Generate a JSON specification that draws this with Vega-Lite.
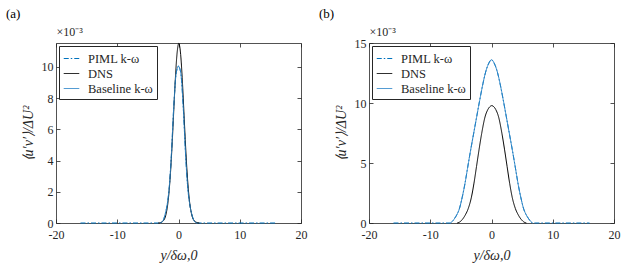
{
  "$schema": "https://vega.github.io/schema/vega-lite/v6.json",
  "background": "white",
  "padding": {"left": 6, "top": 8, "right": 5, "bottom": 5},
  "spacing": 12,
  "config": {
    "font": "Liberation Serif",
    "view": {"stroke": null},
    "axis": {
      "domainColor": "#262626", "domainWidth": 0.8,
      "tickColor": "#262626", "tickWidth": 0.8, "tickSize": -4,
      "labelFont": "Liberation Serif", "labelFontSize": 12, "labelColor": "#262626", "labelPadding": 7,
      "grid": false, "labelFlush": false,
      "titleFont": "Liberation Serif", "titleFontSize": 14, "titleFontWeight": "normal", "titleColor": "#262626"
    },
    "legend": {
      "orient": "top-left", "offset": 3, "strokeColor": "#262626", "fillColor": "white",
      "padding": 4, "symbolType": "stroke", "symbolSize": 240, "symbolStrokeWidth": 1,
      "labelFont": "Liberation Serif", "labelFontSize": 12.5, "labelColor": "#262626",
      "rowPadding": 0, "labelOffset": 8, "title": null
    },
    "title": {"font": "Liberation Serif", "fontSize": 13, "fontWeight": "normal", "color": "#000000", "anchor": "start", "frame": "group"}
  },
  "resolve": {"legend": {"color": "independent", "strokeDash": "independent"}},
  "data": {"values": [
    {"p":"a","s":"PIML k-ω","x":-16,"v":0},
    {"p":"a","s":"PIML k-ω","x":-3.0,"v":0},
    {"p":"a","s":"PIML k-ω","x":-2.6,"v":0.1},
    {"p":"a","s":"PIML k-ω","x":-2.15,"v":0.6},
    {"p":"a","s":"PIML k-ω","x":-1.8,"v":1.3},
    {"p":"a","s":"PIML k-ω","x":-1.55,"v":2.1},
    {"p":"a","s":"PIML k-ω","x":-1.17,"v":4.3},
    {"p":"a","s":"PIML k-ω","x":-0.78,"v":7.4},
    {"p":"a","s":"PIML k-ω","x":-0.41,"v":9.5},
    {"p":"a","s":"PIML k-ω","x":-0.2,"v":9.9},
    {"p":"a","s":"PIML k-ω","x":0,"v":10.05},
    {"p":"a","s":"PIML k-ω","x":0.2,"v":9.9},
    {"p":"a","s":"PIML k-ω","x":0.41,"v":9.5},
    {"p":"a","s":"PIML k-ω","x":0.78,"v":7.4},
    {"p":"a","s":"PIML k-ω","x":1.17,"v":4.3},
    {"p":"a","s":"PIML k-ω","x":1.55,"v":2.1},
    {"p":"a","s":"PIML k-ω","x":1.8,"v":1.3},
    {"p":"a","s":"PIML k-ω","x":2.15,"v":0.6},
    {"p":"a","s":"PIML k-ω","x":2.6,"v":0.1},
    {"p":"a","s":"PIML k-ω","x":3.0,"v":0},
    {"p":"a","s":"PIML k-ω","x":16,"v":0},

    {"p":"a","s":"DNS","x":-3.3,"v":0},
    {"p":"a","s":"DNS","x":-3.0,"v":0.02},
    {"p":"a","s":"DNS","x":-2.5,"v":0.13},
    {"p":"a","s":"DNS","x":-2.0,"v":0.63},
    {"p":"a","s":"DNS","x":-1.75,"v":1.22},
    {"p":"a","s":"DNS","x":-1.5,"v":2.19},
    {"p":"a","s":"DNS","x":-1.25,"v":3.57},
    {"p":"a","s":"DNS","x":-1.0,"v":5.36},
    {"p":"a","s":"DNS","x":-0.75,"v":7.38},
    {"p":"a","s":"DNS","x":-0.5,"v":9.33},
    {"p":"a","s":"DNS","x":-0.25,"v":10.8},
    {"p":"a","s":"DNS","x":0.05,"v":11.5},
    {"p":"a","s":"DNS","x":0.35,"v":10.8},
    {"p":"a","s":"DNS","x":0.6,"v":9.33},
    {"p":"a","s":"DNS","x":0.85,"v":7.38},
    {"p":"a","s":"DNS","x":1.1,"v":5.36},
    {"p":"a","s":"DNS","x":1.35,"v":3.57},
    {"p":"a","s":"DNS","x":1.6,"v":2.19},
    {"p":"a","s":"DNS","x":1.85,"v":1.22},
    {"p":"a","s":"DNS","x":2.1,"v":0.63},
    {"p":"a","s":"DNS","x":2.6,"v":0.13},
    {"p":"a","s":"DNS","x":3.1,"v":0.02},
    {"p":"a","s":"DNS","x":3.4,"v":0},

    {"p":"a","s":"Baseline k-ω","x":-3.0,"v":0},
    {"p":"a","s":"Baseline k-ω","x":-2.6,"v":0.1},
    {"p":"a","s":"Baseline k-ω","x":-2.15,"v":0.6},
    {"p":"a","s":"Baseline k-ω","x":-1.8,"v":1.3},
    {"p":"a","s":"Baseline k-ω","x":-1.55,"v":2.1},
    {"p":"a","s":"Baseline k-ω","x":-1.17,"v":4.3},
    {"p":"a","s":"Baseline k-ω","x":-0.78,"v":7.4},
    {"p":"a","s":"Baseline k-ω","x":-0.41,"v":9.5},
    {"p":"a","s":"Baseline k-ω","x":-0.2,"v":9.9},
    {"p":"a","s":"Baseline k-ω","x":0,"v":10.05},
    {"p":"a","s":"Baseline k-ω","x":0.2,"v":9.9},
    {"p":"a","s":"Baseline k-ω","x":0.41,"v":9.5},
    {"p":"a","s":"Baseline k-ω","x":0.78,"v":7.4},
    {"p":"a","s":"Baseline k-ω","x":1.17,"v":4.3},
    {"p":"a","s":"Baseline k-ω","x":1.55,"v":2.1},
    {"p":"a","s":"Baseline k-ω","x":1.8,"v":1.3},
    {"p":"a","s":"Baseline k-ω","x":2.15,"v":0.6},
    {"p":"a","s":"Baseline k-ω","x":2.6,"v":0.1},
    {"p":"a","s":"Baseline k-ω","x":3.0,"v":0},

    {"p":"b","s":"PIML k-ω","x":-16,"v":0},
    {"p":"b","s":"PIML k-ω","x":-6.7,"v":0},
    {"p":"b","s":"PIML k-ω","x":-6.4,"v":0.13},
    {"p":"b","s":"PIML k-ω","x":-6.0,"v":0.4},
    {"p":"b","s":"PIML k-ω","x":-5.6,"v":0.75},
    {"p":"b","s":"PIML k-ω","x":-5.3,"v":1.1},
    {"p":"b","s":"PIML k-ω","x":-4.8,"v":2.1},
    {"p":"b","s":"PIML k-ω","x":-4.32,"v":3.32},
    {"p":"b","s":"PIML k-ω","x":-3.9,"v":4.6},
    {"p":"b","s":"PIML k-ω","x":-3.4,"v":6.09},
    {"p":"b","s":"PIML k-ω","x":-2.9,"v":7.5},
    {"p":"b","s":"PIML k-ω","x":-2.42,"v":8.85},
    {"p":"b","s":"PIML k-ω","x":-1.9,"v":10.3},
    {"p":"b","s":"PIML k-ω","x":-1.39,"v":11.63},
    {"p":"b","s":"PIML k-ω","x":-1.0,"v":12.5},
    {"p":"b","s":"PIML k-ω","x":-0.5,"v":13.25},
    {"p":"b","s":"PIML k-ω","x":0,"v":13.6},
    {"p":"b","s":"PIML k-ω","x":0.5,"v":13.25},
    {"p":"b","s":"PIML k-ω","x":1.0,"v":12.5},
    {"p":"b","s":"PIML k-ω","x":1.39,"v":11.63},
    {"p":"b","s":"PIML k-ω","x":1.9,"v":10.3},
    {"p":"b","s":"PIML k-ω","x":2.42,"v":8.85},
    {"p":"b","s":"PIML k-ω","x":2.9,"v":7.5},
    {"p":"b","s":"PIML k-ω","x":3.4,"v":6.09},
    {"p":"b","s":"PIML k-ω","x":3.9,"v":4.6},
    {"p":"b","s":"PIML k-ω","x":4.32,"v":3.32},
    {"p":"b","s":"PIML k-ω","x":4.8,"v":2.1},
    {"p":"b","s":"PIML k-ω","x":5.3,"v":1.1},
    {"p":"b","s":"PIML k-ω","x":5.6,"v":0.75},
    {"p":"b","s":"PIML k-ω","x":6.0,"v":0.4},
    {"p":"b","s":"PIML k-ω","x":6.4,"v":0.13},
    {"p":"b","s":"PIML k-ω","x":6.7,"v":0},
    {"p":"b","s":"PIML k-ω","x":16,"v":0},

    {"p":"b","s":"DNS","x":-5.6,"v":0},
    {"p":"b","s":"DNS","x":-5.2,"v":0.08},
    {"p":"b","s":"DNS","x":-4.75,"v":0.3},
    {"p":"b","s":"DNS","x":-4.3,"v":0.65},
    {"p":"b","s":"DNS","x":-3.8,"v":1.2},
    {"p":"b","s":"DNS","x":-3.3,"v":2.1},
    {"p":"b","s":"DNS","x":-2.86,"v":3.32},
    {"p":"b","s":"DNS","x":-2.45,"v":4.7},
    {"p":"b","s":"DNS","x":-2.04,"v":6.09},
    {"p":"b","s":"DNS","x":-1.6,"v":7.47},
    {"p":"b","s":"DNS","x":-1.05,"v":8.85},
    {"p":"b","s":"DNS","x":-0.6,"v":9.45},
    {"p":"b","s":"DNS","x":-0.25,"v":9.7},
    {"p":"b","s":"DNS","x":0.05,"v":9.78},
    {"p":"b","s":"DNS","x":0.35,"v":9.7},
    {"p":"b","s":"DNS","x":0.7,"v":9.45},
    {"p":"b","s":"DNS","x":1.15,"v":8.85},
    {"p":"b","s":"DNS","x":1.7,"v":7.47},
    {"p":"b","s":"DNS","x":2.14,"v":6.09},
    {"p":"b","s":"DNS","x":2.55,"v":4.7},
    {"p":"b","s":"DNS","x":2.96,"v":3.32},
    {"p":"b","s":"DNS","x":3.4,"v":2.1},
    {"p":"b","s":"DNS","x":3.9,"v":1.2},
    {"p":"b","s":"DNS","x":4.4,"v":0.65},
    {"p":"b","s":"DNS","x":4.85,"v":0.3},
    {"p":"b","s":"DNS","x":5.3,"v":0.08},
    {"p":"b","s":"DNS","x":5.7,"v":0},

    {"p":"b","s":"Baseline k-ω","x":-6.7,"v":0},
    {"p":"b","s":"Baseline k-ω","x":-6.4,"v":0.13},
    {"p":"b","s":"Baseline k-ω","x":-6.0,"v":0.4},
    {"p":"b","s":"Baseline k-ω","x":-5.6,"v":0.75},
    {"p":"b","s":"Baseline k-ω","x":-5.3,"v":1.1},
    {"p":"b","s":"Baseline k-ω","x":-4.8,"v":2.1},
    {"p":"b","s":"Baseline k-ω","x":-4.32,"v":3.32},
    {"p":"b","s":"Baseline k-ω","x":-3.9,"v":4.6},
    {"p":"b","s":"Baseline k-ω","x":-3.4,"v":6.09},
    {"p":"b","s":"Baseline k-ω","x":-2.9,"v":7.5},
    {"p":"b","s":"Baseline k-ω","x":-2.42,"v":8.85},
    {"p":"b","s":"Baseline k-ω","x":-1.9,"v":10.3},
    {"p":"b","s":"Baseline k-ω","x":-1.39,"v":11.63},
    {"p":"b","s":"Baseline k-ω","x":-1.0,"v":12.5},
    {"p":"b","s":"Baseline k-ω","x":-0.5,"v":13.25},
    {"p":"b","s":"Baseline k-ω","x":0,"v":13.6},
    {"p":"b","s":"Baseline k-ω","x":0.5,"v":13.25},
    {"p":"b","s":"Baseline k-ω","x":1.0,"v":12.5},
    {"p":"b","s":"Baseline k-ω","x":1.39,"v":11.63},
    {"p":"b","s":"Baseline k-ω","x":1.9,"v":10.3},
    {"p":"b","s":"Baseline k-ω","x":2.42,"v":8.85},
    {"p":"b","s":"Baseline k-ω","x":2.9,"v":7.5},
    {"p":"b","s":"Baseline k-ω","x":3.4,"v":6.09},
    {"p":"b","s":"Baseline k-ω","x":3.9,"v":4.6},
    {"p":"b","s":"Baseline k-ω","x":4.32,"v":3.32},
    {"p":"b","s":"Baseline k-ω","x":4.8,"v":2.1},
    {"p":"b","s":"Baseline k-ω","x":5.3,"v":1.1},
    {"p":"b","s":"Baseline k-ω","x":5.6,"v":0.75},
    {"p":"b","s":"Baseline k-ω","x":6.0,"v":0.4},
    {"p":"b","s":"Baseline k-ω","x":6.4,"v":0.13},
    {"p":"b","s":"Baseline k-ω","x":6.7,"v":0}
  ]},
  "hconcat": [
    {
      "width": 245, "height": 180,
      "title": {"text": "(a)", "dx": -50, "offset": 4},
      "transform": [{"filter": "datum.p === 'a'"}],
      "encoding": {
        "color": {"field": "s", "type": "nominal",
          "scale": {"domain": ["PIML k-ω", "DNS", "Baseline k-ω"], "range": ["#0072BD", "#000000", "#2f86c8"]}},
        "strokeDash": {"field": "s", "type": "nominal",
          "scale": {"domain": ["PIML k-ω", "DNS", "Baseline k-ω"], "range": [[5, 2, 1.5, 2], [1, 0], [1, 0]]}}
      },
      "resolve": {"axis": {"x": "independent", "y": "independent"}},
      "layer": [
        {
          "transform": [{"filter": "datum.s === 'PIML k-ω'"}],
          "mark": {"type": "line", "strokeWidth": 1, "interpolate": "monotone"},
          "encoding": {
            "x": {"field": "x", "type": "quantitative", "scale": {"domain": [-20, 20], "nice": false},
              "axis": {"orient": "bottom", "values": [-20, -10, 0, 10, 20], "labelExpr": "datum.value + ''", "labelFont": "Liberation Serif", "labelPadding": 10, "title": "y/δω,0", "titleFont": "Liberation Serif", "titleFontStyle": "italic", "titlePadding": 8}},
            "y": {"field": "v", "type": "quantitative", "scale": {"domain": [0, 11.53], "nice": false, "zero": false},
              "axis": {"orient": "left", "values": [0, 2, 4, 6, 8, 10], "labelExpr": "datum.value + ''", "labelFont": "Liberation Serif", "title": "⟨u′v′⟩/ΔU²", "titleFont": "Liberation Serif", "titleFontStyle": "italic", "titlePadding": 6}}
          }
        },
        {
          "transform": [{"filter": "datum.s === 'DNS'"}],
          "mark": {"type": "line", "strokeWidth": 1, "interpolate": "monotone"},
          "encoding": {
            "x": {"field": "x", "type": "quantitative", "scale": {"domain": [-20, 20], "nice": false},
              "axis": {"orient": "top", "values": [-20, -10, 0, 10, 20], "labels": false, "title": "×10⁻³", "titleFont": "Liberation Serif", "titleFontSize": 12, "titleAlign": "left", "titleBaseline": "bottom", "titleX": 0, "titleY": -5}},
            "y": {"field": "v", "type": "quantitative", "scale": {"domain": [0, 11.53], "nice": false, "zero": false},
              "axis": {"orient": "right", "values": [0, 2, 4, 6, 8, 10], "labels": false, "title": null}}
          }
        },
        {
          "transform": [{"filter": "datum.s === 'Baseline k-ω'"}],
          "mark": {"type": "line", "strokeWidth": 1, "interpolate": "monotone"},
          "encoding": {
            "x": {"field": "x", "type": "quantitative", "scale": {"domain": [-20, 20], "nice": false}, "axis": null},
            "y": {"field": "v", "type": "quantitative", "scale": {"domain": [0, 11.53], "nice": false, "zero": false}, "axis": null}
          }
        }
      ]
    },
    {
      "width": 245, "height": 180,
      "title": {"text": "(b)", "dx": -50, "offset": 4},
      "transform": [{"filter": "datum.p === 'b'"}],
      "encoding": {
        "color": {"field": "s", "type": "nominal",
          "scale": {"domain": ["PIML k-ω", "DNS", "Baseline k-ω"], "range": ["#0072BD", "#000000", "#2f86c8"]}},
        "strokeDash": {"field": "s", "type": "nominal",
          "scale": {"domain": ["PIML k-ω", "DNS", "Baseline k-ω"], "range": [[5, 2, 1.5, 2], [1, 0], [1, 0]]}}
      },
      "resolve": {"axis": {"x": "independent", "y": "independent"}},
      "layer": [
        {
          "transform": [{"filter": "datum.s === 'PIML k-ω'"}],
          "mark": {"type": "line", "strokeWidth": 1, "interpolate": "monotone"},
          "encoding": {
            "x": {"field": "x", "type": "quantitative", "scale": {"domain": [-20, 20], "nice": false},
              "axis": {"orient": "bottom", "values": [-20, -10, 0, 10, 20], "labelExpr": "datum.value + ''", "labelFont": "Liberation Serif", "labelPadding": 10, "title": "y/δω,0", "titleFont": "Liberation Serif", "titleFontStyle": "italic", "titlePadding": 8}},
            "y": {"field": "v", "type": "quantitative", "scale": {"domain": [0, 15], "nice": false, "zero": false},
              "axis": {"orient": "left", "values": [0, 5, 10, 15], "labelExpr": "datum.value + ''", "labelFont": "Liberation Serif", "title": "⟨u′v′⟩/ΔU²", "titleFont": "Liberation Serif", "titleFontStyle": "italic", "titlePadding": 6}}
          }
        },
        {
          "transform": [{"filter": "datum.s === 'DNS'"}],
          "mark": {"type": "line", "strokeWidth": 1, "interpolate": "monotone"},
          "encoding": {
            "x": {"field": "x", "type": "quantitative", "scale": {"domain": [-20, 20], "nice": false},
              "axis": {"orient": "top", "values": [-20, -10, 0, 10, 20], "labels": false, "title": "×10⁻³", "titleFont": "Liberation Serif", "titleFontSize": 12, "titleAlign": "left", "titleBaseline": "bottom", "titleX": 0, "titleY": -5}},
            "y": {"field": "v", "type": "quantitative", "scale": {"domain": [0, 15], "nice": false, "zero": false},
              "axis": {"orient": "right", "values": [0, 5, 10, 15], "labels": false, "title": null}}
          }
        },
        {
          "transform": [{"filter": "datum.s === 'Baseline k-ω'"}],
          "mark": {"type": "line", "strokeWidth": 1, "interpolate": "monotone"},
          "encoding": {
            "x": {"field": "x", "type": "quantitative", "scale": {"domain": [-20, 20], "nice": false}, "axis": null},
            "y": {"field": "v", "type": "quantitative", "scale": {"domain": [0, 15], "nice": false, "zero": false}, "axis": null}
          }
        }
      ]
    }
  ]
}
